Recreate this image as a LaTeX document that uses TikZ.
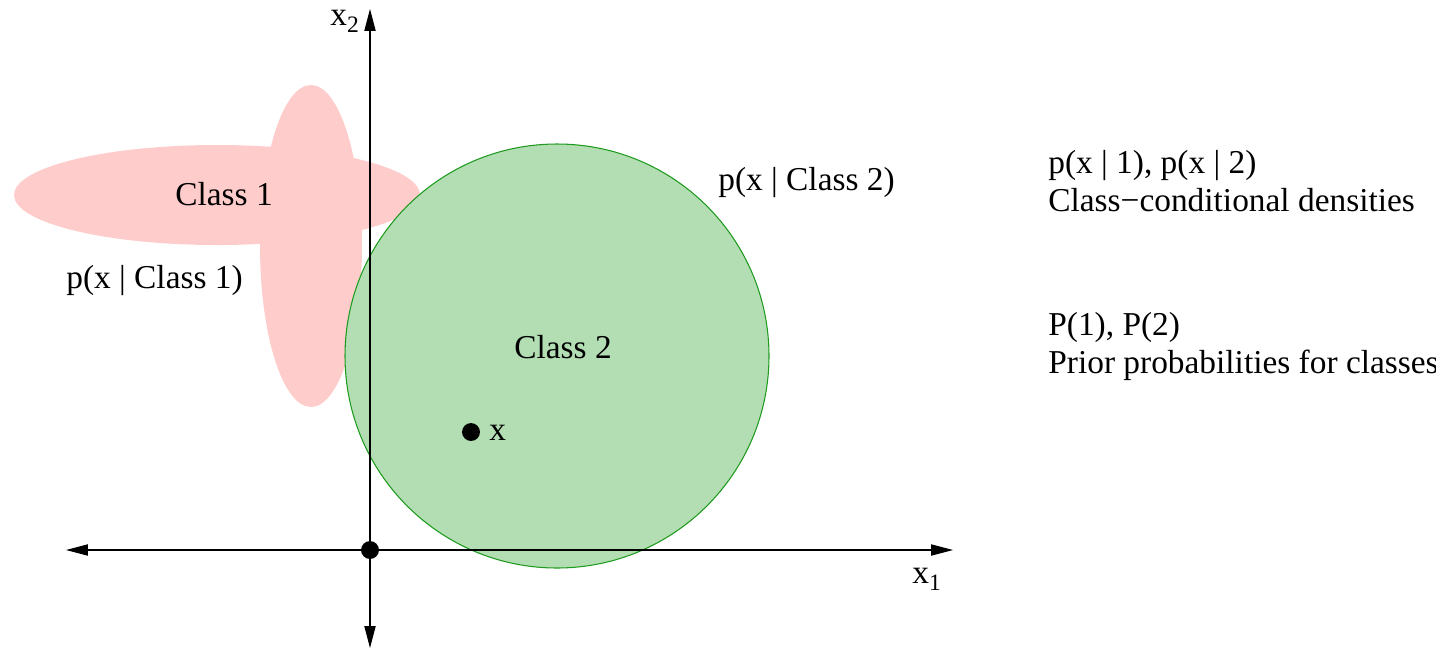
\documentclass[tikz,border=0pt]{standalone}
\usepackage{fontspec}
\setmainfont{Liberation Serif}
\usetikzlibrary{arrows.meta}
\definecolor{blush}{HTML}{FFCCCC}
\definecolor{meadow}{HTML}{B3DEB3}
\definecolor{meadowEdge}{HTML}{1E9A1E}

\begin{document}
\begin{tikzpicture}[x=0.02cm,y=-0.02cm,>={Triangle[length=12.5pt,width=6.4pt]},
    lbl/.style={font=\fontsize{19}{22}\selectfont,inner sep=0pt},
    axis/.style={line width=0.6pt,<->},
    dot/.style={circle,fill,inner sep=0pt,minimum size=10.2pt}]
    \useasboundingbox (0,0) rectangle (1436,650);
    \fill[blush] (217,195) ellipse [x radius=203,y radius=50];
    \fill[blush] (311,246) ellipse [x radius=51,y radius=161];
    \filldraw[fill=meadow,draw=meadowEdge,line width=0.6pt] (557,356) circle [radius=212];
    \coordinate (west) at (66,550);
    \coordinate (east) at (953,550);
    \coordinate (north) at (370,9);
    \coordinate (south) at (370,648);
    \draw[axis] (west)--(east);
    \draw[axis] (south)--(north);
    \node[dot] (origin) at (370,550) {};
    \node[dot] (sample) at (471,432) {};
    \node[lbl,anchor=base west] (samplelbl) at (489,440) {x};
    \node[lbl,anchor=base west] (xone) at (912,583)
        {x\raisebox{-4.5pt}{\fontsize{13.4}{14}\selectfont 1}};
    \node[lbl,anchor=base west] (xtwo) at (330,25)
        {x\raisebox{-4.5pt}{\fontsize{13.4}{14}\selectfont 2}};
    \node[lbl,anchor=base] (cone) at (224,205) {Class 1};
    \node[lbl,anchor=base west] (pone) at (66,288) {p(x | Class 1)};
    \node[lbl,anchor=base] (ctwo) at (563,358) {Class 2};
    \node[lbl,anchor=base west] (ptwo) at (718,190) {p(x | Class 2)};
    \node[lbl,anchor=base west] (dens) at (1048,173) {p(x | 1), p(x | 2)};
    \node[lbl,anchor=base west] (densnote) at (1048,211) {Class−conditional densities};
    \node[lbl,anchor=base west] (prior) at (1048,335) {P(1), P(2)};
    \node[lbl,anchor=base west] (priornote) at (1048,373) {Prior probabilities for classes};
\end{tikzpicture}
\end{document}
